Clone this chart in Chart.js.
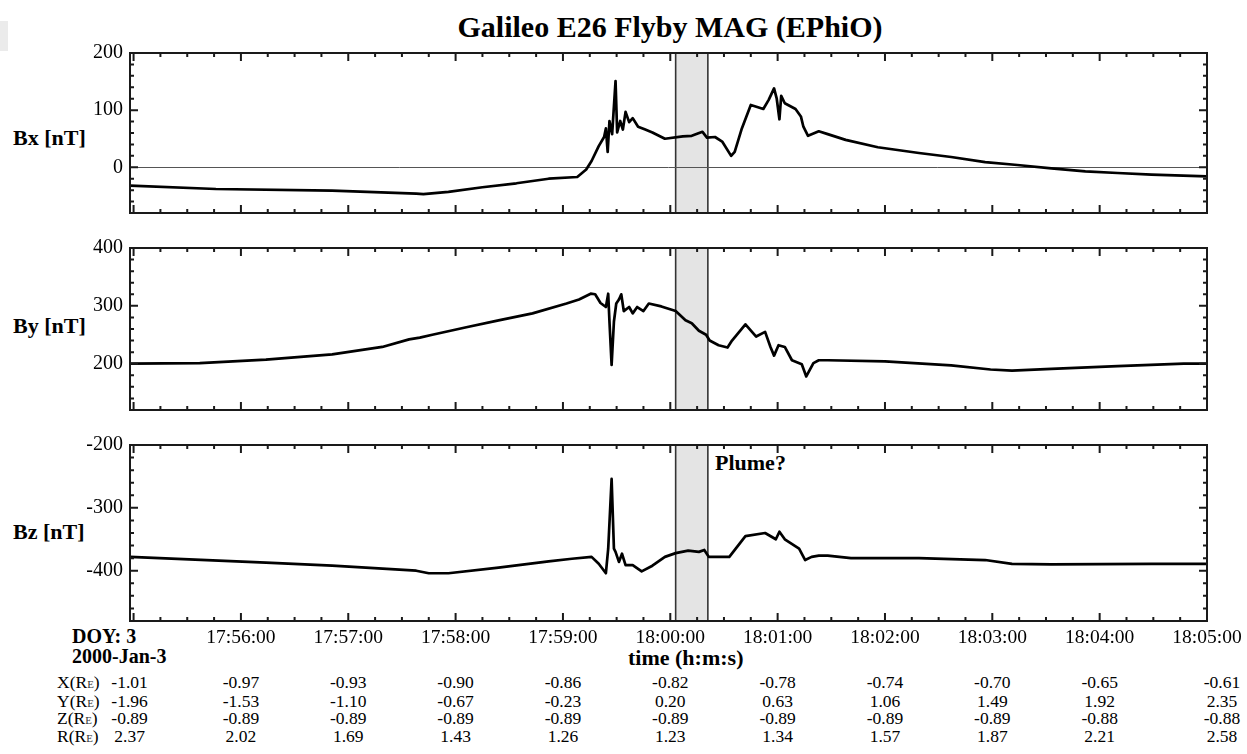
<!DOCTYPE html>
<html>
<head>
<meta charset="utf-8">
<title>Galileo E26 Flyby MAG (EPhiO)</title>
<script src="https://cdn.jsdelivr.net/npm/chart.js@4.4.1/dist/chart.umd.min.js"></script>
<style>
  body { margin: 0; background: #fff; }
  #page { position: relative; width: 1247px; height: 754px; overflow: hidden;
          font-family: "Liberation Serif", "Times New Roman", serif; color: #000; }
  canvas { position: absolute; left: 0; }
  .lbl { position: absolute; white-space: nowrap; line-height: 1; }
  .b { font-weight: bold; }
  .cell { position: absolute; font-size: 17.5px; line-height: 17.5px; white-space: nowrap; transform: translateX(-50%); }
  .row { position: absolute; left: 57px; font-size: 17.5px; line-height: 17.5px; white-space: nowrap; }
  .row small { font-size: 0.62em; color: #333; }
</style>
</head>
<body>
<div id="page">
  <div style="position:absolute;left:0;top:21px;width:8px;height:30px;background:#ebebeb"></div>
  <div class="lbl b" style="left:670px;top:12px;font-size:30px;transform:translateX(-50%)">Galileo E26 Flyby MAG (EPhiO)</div>
  <div class="lbl b" style="left:13px;top:127px;font-size:22px">Bx [nT]</div>
  <div class="lbl b" style="left:13px;top:315px;font-size:22px">By [nT]</div>
  <div class="lbl b" style="left:13px;top:521px;font-size:22px">Bz [nT]</div>
  <div class="lbl b" style="left:715px;top:452px;font-size:22px">Plume?</div>
  <div class="lbl b" style="left:72px;top:626px;font-size:20px">DOY: 3</div>
  <div class="lbl b" style="left:72px;top:646px;font-size:20px">2000-Jan-3</div>
  <div class="lbl b" style="left:628px;top:647px;font-size:22px">time (h:m:s)</div>
  <canvas id="bx"></canvas>
  <canvas id="by"></canvas>
  <canvas id="bz"></canvas>
  <div id="table"></div>
</div>
<script>
// time in seconds after 17:55:00 (2000-Jan-3)
const bxTime = [-2, 46, 111, 158, 162, 176, 195, 214, 232, 248, 253, 256, 260, 263, 264, 265, 266, 267.5, 269.4, 270.3,
  272, 273.5, 275, 277, 279, 282, 286, 290, 297, 307, 312, 318, 320.5, 325, 329, 334, 336, 340, 345, 349,
  352, 355, 358, 359.5, 361, 362, 364, 370, 373, 374.4, 377, 383, 388, 398, 416, 439, 457, 476, 494, 513,
  532, 550, 569, 600];
const bxValue = [-32, -38, -41, -46, -47, -43, -35, -28, -20, -17, -4, 11, 37, 53, 68, 27, 81, 58, 151, 61,
  81, 66, 97, 79, 86, 71, 66, 61, 50, 54, 55, 62, 52, 53, 45, 20, 27, 68, 109, 105,
  102, 118, 138, 120, 84, 125, 112, 102, 89, 71, 55, 63, 58, 48, 35, 25, 18, 9, 4, -2,
  -7, -10, -13, -16];

const byTime = [-2, 37, 74, 111, 139, 154, 160, 167, 186, 204, 223, 242, 249, 255.5, 258, 261, 264, 265.3, 266, 267.2,
  268.5, 269.8, 271.3, 272.6, 274, 277, 279, 281.5, 285, 288, 295, 303, 308.5, 312, 316, 320, 322, 327, 332, 334.5,
  342, 348, 353, 356, 358, 360.5, 364, 368, 373.5, 376, 380, 383, 388, 420, 457, 479, 491, 513, 550, 587, 600];
const byValue = [200, 201, 207, 216, 229, 242, 245, 250, 263, 275, 287, 304, 311, 321, 320, 305, 298, 321, 273, 198,
  273, 304, 311, 320, 291, 298, 287, 298, 291, 304, 299, 291, 275, 270, 257, 250, 240, 232, 228, 240,
  268, 247, 255, 229, 214, 232, 229, 206, 199, 178, 201, 206, 206, 204, 197, 190, 188, 191, 196, 200, 200];

const bzTime = [-2, 74, 111, 158, 165, 176, 204, 232, 245, 256, 260, 264, 265.3, 267.2, 268.5, 269.4, 271.3, 273, 275, 279,
  284, 290, 297, 303, 310, 316, 319, 321.5, 333, 342, 353, 359, 361, 364, 372, 375.4, 379, 383, 388, 401,
  439, 476, 491, 513, 569, 600];
const bzValue = [-378, -387, -392, -400, -404, -404, -395, -385, -381, -378, -389, -404, -365, -254, -365, -370, -386, -373, -391, -391,
  -401, -392, -378, -372, -368, -370, -367, -378, -378, -345, -340, -350, -338, -350, -365, -383, -378, -376, -376, -380,
  -380, -383, -389, -390, -389, -389];

const tickTimes = [0, 60, 120, 180, 240, 300, 360, 420, 480, 540, 600];
const bandTimes = [303, 321];   // shaded interval ("Plume?")
const xRange = [-2, 600];

const bxTicks = [0, 100, 200];
const byTicks = [200, 300, 400];
const bzTicks = [-400, -300, -200];

// ephemeris table, one value per major tick
const ephemX = ['-1.01', '-0.97', '-0.93', '-0.90', '-0.86', '-0.82', '-0.78', '-0.74', '-0.70', '-0.65', '-0.61'];
const ephemY = ['-1.96', '-1.53', '-1.10', '-0.67', '-0.23', '0.20', '0.63', '1.06', '1.49', '1.92', '2.35'];
const ephemZ = ['-0.89', '-0.89', '-0.89', '-0.89', '-0.89', '-0.89', '-0.89', '-0.89', '-0.89', '-0.88', '-0.88'];
const ephemR = ['2.37', '2.02', '1.69', '1.43', '1.26', '1.23', '1.34', '1.57', '1.87', '2.21', '2.58'];

const FONT = '"Liberation Serif", "Times New Roman", serif';

function fmtTime(sec) {
  const total = 17 * 3600 + 55 * 60 + sec;
  const pad = (n) => String(n).padStart(2, '0');
  return pad(Math.floor(total / 3600)) + ':' + pad(Math.floor(total / 60) % 60) + ':' + pad(total % 60);
}

// shaded band under everything, inward ticks + frame on top
const frameTicks = {
  id: 'frameTicks',
  beforeDraw(chart) {
    const { ctx, chartArea: a, scales: { x } } = chart;
    const x0 = x.getPixelForValue(bandTimes[0]);
    const x1 = x.getPixelForValue(bandTimes[1]);
    ctx.save();
    ctx.fillStyle = '#e4e4e4';
    ctx.fillRect(x0, a.top, x1 - x0, a.bottom - a.top);
    ctx.strokeStyle = '#333';
    ctx.lineWidth = 1.6;
    ctx.beginPath();
    [x0, x1].forEach((px) => { ctx.moveTo(px, a.top); ctx.lineTo(px, a.bottom); });
    ctx.stroke();
    ctx.restore();
  },
  afterDraw(chart) {
    const { ctx, chartArea: a, scales: { x, y } } = chart;
    ctx.save();
    ctx.strokeStyle = '#1a1a1a';
    ctx.lineWidth = 2;
    ctx.beginPath();
    for (let t = Math.ceil(x.min / 15) * 15; t <= x.max; t += 15) {
      const px = x.getPixelForValue(t);
      const len = t % 60 === 0 ? 8 : 4;
      ctx.moveTo(px, a.top); ctx.lineTo(px, a.top + len);
      ctx.moveTo(px, a.bottom); ctx.lineTo(px, a.bottom - len);
    }
    for (let v = Math.ceil(y.min / 20) * 20; v <= y.max; v += 20) {
      const py = y.getPixelForValue(v);
      const len = v % 100 === 0 ? 8 : 4;
      ctx.moveTo(a.left, py); ctx.lineTo(a.left + len, py);
      ctx.moveTo(a.right, py); ctx.lineTo(a.right - len, py);
    }
    ctx.stroke();
    ctx.strokeRect(a.left, a.top, a.right - a.left, a.bottom - a.top);
    ctx.restore();
  },
};

function makePanel(id, times, values, yMin, yMax, yTicks, top, plotHeight, isLast, showZero) {
  const canvas = document.getElementById(id);
  const padTop = 15;
  const axisHeight = isLast ? 30 : 0;
  const padBottom = isLast ? 0 : 3;
  canvas.width = 1247;
  canvas.height = padTop + plotHeight + axisHeight + padBottom;
  canvas.style.top = (top - padTop) + 'px';

  return new Chart(canvas, {
    type: 'line',
    data: {
      datasets: [{
        data: times.map((t, i) => ({ x: t, y: values[i] })),
        borderColor: '#000',
        borderWidth: 2.7,
        borderJoinStyle: 'round',
        pointRadius: 0,
        tension: 0,
        fill: false,
      }],
    },
    options: {
      responsive: false,
      animation: false,
      devicePixelRatio: 1,
      layout: { padding: { top: padTop, right: 40, bottom: padBottom, left: 0 } },
      plugins: { legend: { display: false }, tooltip: { enabled: false } },
      scales: {
        x: {
          type: 'linear',
          min: xRange[0],
          max: xRange[1],
          display: isLast,
          afterBuildTicks: (s) => { s.ticks = tickTimes.map((v) => ({ value: v })); },
          afterFit: (s) => { s.height = axisHeight; },
          grid: { display: false, drawTicks: false },
          border: { display: false },
          ticks: {
            autoSkip: false,
            maxRotation: 0,
            padding: 5,
            color: '#000',
            font: { family: FONT, size: 19.5 },
            callback: (v) => (v === 0 ? '' : fmtTime(v)),
          },
        },
        y: {
          min: yMin,
          max: yMax,
          afterBuildTicks: (s) => { s.ticks = yTicks.map((v) => ({ value: v })); },
          afterFit: (s) => { s.width = 130; },
          grid: {
            drawTicks: false,
            lineWidth: 1,
            color: (c) => (showZero && c.tick && c.tick.value === 0 ? '#555' : 'rgba(0,0,0,0)'),
          },
          border: { display: false },
          ticks: { padding: 7, color: '#000', font: { family: FONT, size: 20 } },
        },
      },
    },
    plugins: [frameTicks],
  });
}

makePanel('bx', bxTime, bxValue, -80, 200, bxTicks, 49, 180, false, true);
makePanel('by', byTime, byValue, 120, 400, byTicks, 244, 182, false, false);
const bzChart = makePanel('bz', bzTime, bzValue, -480, -200, bzTicks, 441, 180, true, false);

// ephemeris rows under the time axis, columns follow the time ticks
const table = document.getElementById('table');
const rowNames = ['X', 'Y', 'Z', 'R'];
const rowValues = [ephemX, ephemY, ephemZ, ephemR];
const rowCenters = [683, 701.5, 719, 737];
rowNames.forEach((name, r) => {
  const top = rowCenters[r] - 9;
  const label = document.createElement('div');
  label.className = 'row';
  label.style.top = top + 'px';
  label.innerHTML = name + '(R<small>E</small>)';
  table.appendChild(label);
  rowValues[r].forEach((val, i) => {
    let px = bzChart.scales.x.getPixelForValue(tickTimes[i]);
    if (i === 0) px -= 4;
    if (i === tickTimes.length - 1) px += 15;
    const cell = document.createElement('div');
    cell.className = 'cell';
    cell.style.left = px + 'px';
    cell.style.top = top + 'px';
    cell.textContent = val;
    table.appendChild(cell);
  });
});
</script>
</body>
</html>
